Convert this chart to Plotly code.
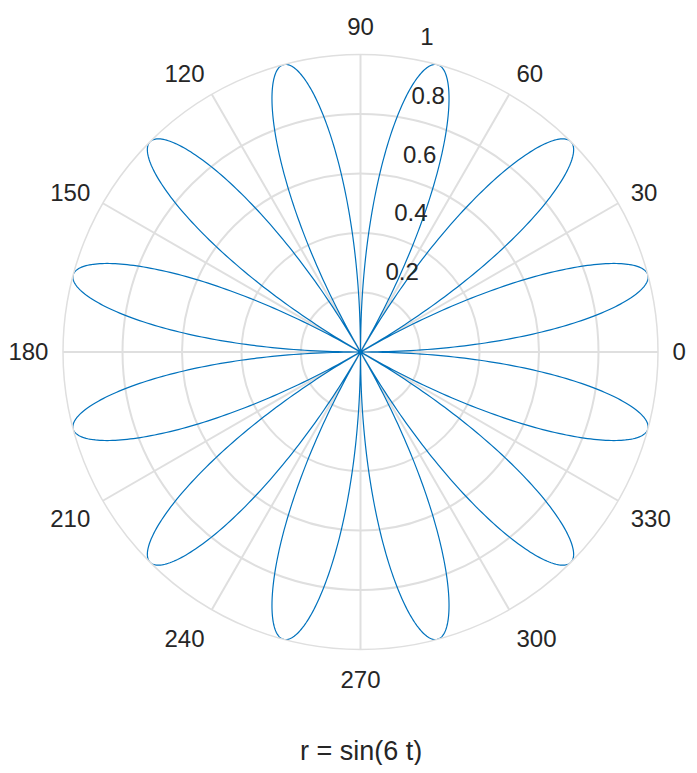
import numpy as np
import plotly.graph_objects as go

# Data: the curve r = sin(6 t), sampled over one full turn (as in the caption)
t_deg = np.linspace(0, 360, 2001)
r_raw = np.sin(6 * np.deg2rad(t_deg))
# negative radii are drawn through the origin on the opposite side (MATLAB polarplot behaviour)
theta_vals = np.where(r_raw < 0, t_deg + 180, t_deg)
r_vals = np.abs(r_raw)

radial_ticks = [0.2, 0.4, 0.6, 0.8, 1]
radial_ticktext = ["0.2", "0.4", "0.6", "0.8", "1"]
angular_ticks = [0, 30, 60, 90, 120, 150, 180, 210, 240, 270, 300, 330]
angular_ticktext = [str(a) for a in angular_ticks]
caption = "r = sin(6 t)"

# page has an 8px body margin; size the figure so it fits the 697x773 window
OFF = 8
W, H = 697 - 2 * OFF, 773 - 2 * OFF
cx, cy, R = 360.5 - OFF, 352 - OFF, 297.5
# radial tick labels sit a little outward of their rings (MATLAB style):
# a second, label-only polar axis with a slightly extended range does this
LBL_SHIFT = 27.0 / R
R2 = R * (1 + LBL_SHIFT)

fig = go.Figure()
fig.add_trace(go.Scatterpolar(
    r=r_vals, theta=theta_vals, mode="lines",
    line=dict(color="#0072BD", width=1.2),
    hoverinfo="skip", showlegend=False, subplot="polar",
))
# invisible anchor trace for the label-only polar axis
fig.add_trace(go.Scatterpolar(
    r=[radial_ticks[-1]], theta=[0], mode="markers",
    marker=dict(opacity=0), hoverinfo="skip", showlegend=False, subplot="polar2",
))

font = dict(family="Liberation Sans, Arial, sans-serif", size=24, color="#262626")
grid = "#dfdfdf"


def dom(rad):
    return dict(x=[(cx - rad) / W, (cx + rad) / W],
                y=[(H - cy - rad) / H, (H - cy + rad) / H])


fig.update_layout(
    width=W, height=H,
    margin=dict(l=0, r=0, t=0, b=0),
    paper_bgcolor="white",
    font=font,
    polar=dict(
        domain=dom(R),
        bgcolor="white",
        radialaxis=dict(
            range=[0, 1], tickvals=radial_ticks, showticklabels=False,
            angle=81.6, showline=False, ticks="", gridcolor=grid, gridwidth=1.5,
        ),
        angularaxis=dict(
            direction="counterclockwise", rotation=0,
            tickvals=angular_ticks, ticktext=angular_ticktext,
            showline=True, linecolor=grid, linewidth=1.5,
            gridcolor=grid, gridwidth=1.5,
            ticks="outside", ticklen=9, tickcolor="rgba(0,0,0,0)",
            tickfont=font,
        ),
    ),
    polar2=dict(
        domain=dom(R2),
        bgcolor="rgba(0,0,0,0)",
        radialaxis=dict(
            range=[-LBL_SHIFT, 1], tickvals=radial_ticks, ticktext=radial_ticktext,
            angle=81.6, tickangle=81.6, side="clockwise",
            showline=False, showgrid=False, ticks="",
            tickfont=font,
        ),
        angularaxis=dict(visible=False, showgrid=False, showline=False),
    ),
    annotations=[dict(
        text=caption, x=cx / W, y=0, xref="paper", yref="paper",
        showarrow=False, xanchor="center", yanchor="bottom", yshift=-3,
        font=dict(family="Liberation Sans, Arial, sans-serif", size=27, color="#262626"),
    )],
)

fig.write_html("out.html")
